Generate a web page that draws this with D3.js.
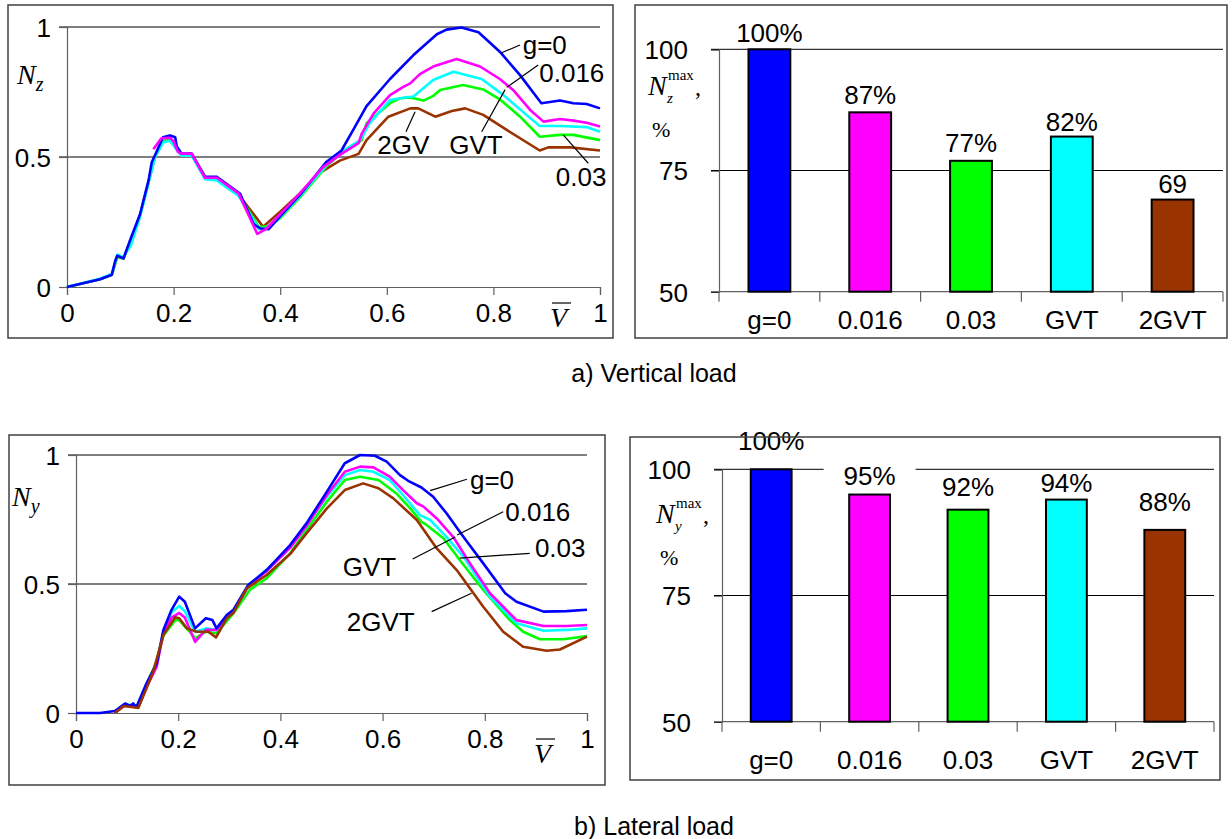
<!DOCTYPE html>
<html>
<head>
<meta charset="utf-8">
<script src="https://cdn.jsdelivr.net/npm/d3@7"></script>
<style>
  body { margin: 0; background: #fff; }
  svg { display: block; }
  text { font-family: "Liberation Sans", Arial, sans-serif; fill: #000; }
  .serif { font-family: "Liberation Serif", "Times New Roman", serif; }
</style>
</head>
<body>
<svg id="chart" width="1232" height="839"></svg>
<script>
// ---- data: relative load N vs V ----
const nzBlue = [[0,0],[0.062,0.03],[0.084,0.047],[0.09,0.097],[0.094,0.12],[0.106,0.11],[0.118,0.178],[0.137,0.28],[0.153,0.41],[0.159,0.48],[0.168,0.52],[0.18,0.576],[0.193,0.583],[0.203,0.576],[0.206,0.54],[0.215,0.513],[0.234,0.513],[0.259,0.424],[0.281,0.424],[0.325,0.358],[0.35,0.242],[0.363,0.225],[0.378,0.222],[0.4,0.273],[0.437,0.354],[0.487,0.482],[0.515,0.525],[0.537,0.604],[0.562,0.696],[0.606,0.8],[0.65,0.892],[0.694,0.972],[0.712,0.99],[0.74,0.998],[0.772,0.98],[0.812,0.905],[0.85,0.815],[0.89,0.707],[0.925,0.717],[0.95,0.707],[0.975,0.704],[1,0.687]];
const nzMagenta = [[0.162,0.53],[0.177,0.572],[0.193,0.574],[0.2,0.56],[0.208,0.52],[0.215,0.513],[0.234,0.513],[0.259,0.42],[0.281,0.42],[0.322,0.36],[0.357,0.204],[0.374,0.224],[0.4,0.28],[0.437,0.36],[0.48,0.46],[0.512,0.508],[0.547,0.553],[0.553,0.59],[0.575,0.667],[0.606,0.738],[0.631,0.77],[0.644,0.783],[0.662,0.819],[0.687,0.848],[0.731,0.877],[0.775,0.848],[0.812,0.8],[0.837,0.758],[0.869,0.681],[0.894,0.636],[0.925,0.646],[0.95,0.64],[0.975,0.632],[1,0.617]];
const nzCyan = [[0,0],[0.062,0.032],[0.084,0.05],[0.095,0.125],[0.105,0.115],[0.12,0.16],[0.137,0.27],[0.153,0.4],[0.165,0.5],[0.18,0.555],[0.193,0.563],[0.205,0.53],[0.215,0.505],[0.234,0.505],[0.259,0.415],[0.281,0.41],[0.322,0.35],[0.36,0.222],[0.38,0.23],[0.4,0.27],[0.437,0.35],[0.487,0.47],[0.515,0.52],[0.55,0.565],[0.568,0.63],[0.606,0.719],[0.637,0.73],[0.65,0.733],[0.687,0.796],[0.725,0.828],[0.778,0.8],[0.819,0.738],[0.862,0.662],[0.887,0.619],[0.925,0.619],[0.975,0.615],[1,0.597]];
const nzGreen = [[0,0],[0.062,0.03],[0.084,0.047],[0.094,0.115],[0.106,0.11],[0.118,0.17],[0.137,0.275],[0.153,0.405],[0.165,0.5],[0.18,0.56],[0.193,0.565],[0.205,0.535],[0.215,0.51],[0.234,0.51],[0.259,0.42],[0.281,0.415],[0.322,0.355],[0.36,0.23],[0.38,0.235],[0.4,0.265],[0.437,0.345],[0.487,0.465],[0.515,0.515],[0.553,0.565],[0.562,0.63],[0.606,0.707],[0.625,0.726],[0.644,0.729],[0.669,0.717],[0.687,0.735],[0.7,0.758],[0.743,0.777],[0.781,0.76],[0.812,0.722],[0.85,0.655],[0.887,0.578],[0.925,0.585],[0.95,0.585],[1,0.565]];
const nzBrown = [[0,0],[0.062,0.03],[0.084,0.047],[0.094,0.115],[0.106,0.11],[0.118,0.17],[0.137,0.275],[0.153,0.405],[0.165,0.5],[0.18,0.56],[0.193,0.565],[0.205,0.535],[0.215,0.51],[0.234,0.51],[0.259,0.42],[0.281,0.415],[0.322,0.355],[0.368,0.232],[0.4,0.29],[0.437,0.36],[0.475,0.44],[0.512,0.486],[0.547,0.512],[0.562,0.565],[0.603,0.655],[0.644,0.687],[0.659,0.687],[0.691,0.655],[0.722,0.677],[0.747,0.687],[0.781,0.662],[0.825,0.604],[0.887,0.525],[0.903,0.537],[0.944,0.537],[1,0.525]];

const nyBlue = [[0,0],[0.047,0],[0.076,0.008],[0.096,0.037],[0.106,0.027],[0.112,0.037],[0.118,0.022],[0.138,0.115],[0.158,0.192],[0.171,0.322],[0.187,0.4],[0.202,0.451],[0.213,0.431],[0.233,0.328],[0.254,0.367],[0.267,0.36],[0.275,0.328],[0.295,0.38],[0.308,0.4],[0.337,0.496],[0.373,0.554],[0.419,0.651],[0.451,0.735],[0.491,0.858],[0.526,0.968],[0.556,1.0],[0.585,0.997],[0.608,0.974],[0.634,0.922],[0.65,0.9],[0.676,0.874],[0.699,0.838],[0.725,0.774],[0.758,0.683],[0.797,0.58],[0.84,0.464],[0.862,0.431],[0.915,0.393],[0.96,0.395],[1,0.4]];
const nyMagenta = [[0.076,0],[0.096,0.03],[0.112,0.03],[0.122,0.022],[0.138,0.1],[0.158,0.18],[0.171,0.31],[0.187,0.37],[0.202,0.388],[0.213,0.37],[0.233,0.276],[0.254,0.322],[0.275,0.322],[0.295,0.375],[0.308,0.395],[0.337,0.49],[0.373,0.55],[0.419,0.64],[0.451,0.725],[0.491,0.845],[0.526,0.935],[0.556,0.955],[0.582,0.952],[0.614,0.916],[0.64,0.864],[0.667,0.813],[0.68,0.8],[0.706,0.754],[0.738,0.683],[0.771,0.58],[0.81,0.464],[0.862,0.36],[0.915,0.337],[0.96,0.337],[1,0.341]];
const nyCyan = [[0.076,0],[0.096,0.032],[0.112,0.032],[0.122,0.022],[0.138,0.105],[0.158,0.185],[0.171,0.315],[0.187,0.39],[0.202,0.415],[0.213,0.395],[0.233,0.315],[0.254,0.328],[0.275,0.322],[0.295,0.378],[0.308,0.398],[0.337,0.493],[0.373,0.555],[0.419,0.645],[0.451,0.728],[0.491,0.838],[0.526,0.922],[0.556,0.942],[0.582,0.935],[0.614,0.903],[0.64,0.845],[0.673,0.767],[0.693,0.748],[0.725,0.683],[0.758,0.606],[0.81,0.451],[0.862,0.348],[0.915,0.319],[0.96,0.322],[1,0.328]];
const nyGreen = [[0.076,0],[0.096,0.03],[0.112,0.03],[0.122,0.022],[0.138,0.11],[0.158,0.2],[0.171,0.3],[0.194,0.36],[0.202,0.36],[0.23,0.298],[0.233,0.289],[0.254,0.315],[0.275,0.309],[0.308,0.386],[0.34,0.477],[0.373,0.522],[0.419,0.619],[0.458,0.729],[0.491,0.819],[0.526,0.903],[0.556,0.916],[0.592,0.903],[0.627,0.851],[0.654,0.793],[0.676,0.741],[0.686,0.729],[0.719,0.677],[0.751,0.593],[0.797,0.477],[0.849,0.36],[0.875,0.315],[0.908,0.286],[0.954,0.286],[1,0.298]];
const nyBrown = [[0.076,0],[0.093,0.027],[0.112,0.022],[0.122,0.02],[0.138,0.096],[0.151,0.16],[0.171,0.302],[0.194,0.371],[0.202,0.367],[0.217,0.328],[0.236,0.315],[0.259,0.315],[0.274,0.293],[0.295,0.367],[0.308,0.388],[0.334,0.483],[0.373,0.535],[0.419,0.616],[0.451,0.696],[0.491,0.793],[0.526,0.864],[0.562,0.89],[0.592,0.871],[0.621,0.832],[0.667,0.748],[0.706,0.638],[0.745,0.554],[0.797,0.412],[0.836,0.315],[0.875,0.257],[0.921,0.241],[0.947,0.246],[1,0.296]];

const xTicks = [0, 0.2, 0.4, 0.6, 0.8, 1];
const xTickLabels = ['0', '0.2', '0.4', '0.6', '0.8', '1'];
const yTicks = [0, 0.5, 1];
const yTickLabels = ['0', '0.5', '1'];

// ---- data: max load in % ----
const barCats = ['g=0', '0.016', '0.03', 'GVT', '2GVT'];
const nzMaxPct = [100, 87, 77, 82, 69];
const nzMaxLabels = ['100%', '87%', '77%', '82%', '69'];
const nyMaxPct = [100, 95, 92, 94, 88];
const nyMaxLabels = ['100%', '95%', '92%', '94%', '88%'];
const barTicks = [50, 75, 100];

// annotation texts and leader ends (in data units)
const nzNotes = [
  { t: 'g=0',   at: [0.855, 0.931], from: [0.8155, 0.901], to: [0.85, 0.931] },
  { t: '0.016', at: [0.886, 0.825], from: [0.825, 0.768], to: [0.884, 0.854] },
  { t: 'GVT',   at: [0.717, 0.546], from: [0.778, 0.597], to: [0.822, 0.759] },
  { t: '2GV',   at: [0.582, 0.546], from: [0.636, 0.597], to: [0.653, 0.674] },
  { t: '0.03',  at: [0.917, 0.424], from: [0.931, 0.585], to: [0.978, 0.476] }
];
const nyNotes = [
  { t: 'g=0',   at: [0.771, 0.903], from: [0.693, 0.862], to: [0.765, 0.906] },
  { t: '0.016', at: [0.84, 0.78],   from: [0.746, 0.69],  to: [0.836, 0.78] },
  { t: '0.03',  at: [0.898, 0.64],  from: [0.751, 0.6],   to: [0.888, 0.619] },
  { t: 'GVT',   at: [0.522, 0.567], from: [0.659, 0.597], to: [0.742, 0.682] },
  { t: '2GVT',  at: [0.53, 0.354],  from: [0.696, 0.393], to: [0.774, 0.464] }
];

const cBlue = '#0000ff', cMag = '#ff00ff', cCyan = '#00ffff', cGreen = '#00ff00', cBrown = '#993300';
const barColors = [cBlue, cMag, cGreen, cCyan, cBrown];

const svg = d3.select('#chart');
const FS = '26px';

function frame(x0, y0, x1, y1) {
  svg.append('rect')
    .attr('x', x0).attr('y', y0)
    .attr('width', x1 - x0).attr('height', y1 - y0)
    .attr('fill', 'none')
    .attr('stroke', '#404040')
    .attr('stroke-width', 1.5);
}

function lineChart(cfg) {
  const g = svg.append('g');
  const x = d3.scaleLinear().domain([0, 1]).range([cfg.left, cfg.right]);
  const y = d3.scaleLinear().domain([0, 1]).range([cfg.bottom, cfg.top]);

  // gridlines
  g.selectAll('.grid').data(yTicks.filter(d => d > 0)).enter()
    .append('line')
    .attr('x1', cfg.left - 8).attr('x2', cfg.right)
    .attr('y1', d => y(d)).attr('y2', d => y(d))
    .attr('stroke', '#000').attr('stroke-width', 1);

  const yAxis = g.append('g')
    .attr('transform', `translate(${cfg.left},0)`)
    .call(d3.axisLeft(y).tickValues(yTicks).tickFormat((d, i) => yTickLabels[i]).tickSize(8).tickPadding(8));
  const xAxis = g.append('g')
    .attr('transform', `translate(0,${cfg.bottom})`)
    .call(d3.axisBottom(x).tickValues(xTicks).tickFormat((d, i) => xTickLabels[i]).tickSize(8).tickPadding(9));
  [yAxis, xAxis].forEach(a => {
    a.select('.domain').attr('stroke', '#606060').attr('stroke-width', 1.2);
    a.selectAll('.tick line').attr('stroke', '#606060').attr('stroke-width', 1.2);
    a.selectAll('.tick text').style('font-size', FS).attr('fill', '#000');
  });
  yAxis.selectAll('.tick text').attr('dy', '0.36em');

  const line = d3.line().x(d => x(d[0])).y(d => y(d[1]));
  cfg.series.forEach(s => {
    g.append('path')
      .datum(s.data)
      .attr('d', line)
      .attr('fill', 'none')
      .attr('stroke', s.color)
      .attr('stroke-width', 2.6)
      .attr('stroke-linejoin', 'round');
  });

  // annotations
  cfg.notes.forEach(n => {
    g.append('line')
      .attr('x1', x(n.from[0])).attr('y1', y(n.from[1]))
      .attr('x2', x(n.to[0])).attr('y2', y(n.to[1]))
      .attr('stroke', '#000').attr('stroke-width', 1.2);
    g.append('text')
      .attr('x', x(n.at[0])).attr('y', y(n.at[1]))
      .attr('dy', '0.36em')
      .style('font-size', FS)
      .text(n.t);
  });

  // axis titles
  const yt = g.append('text').attr('class', 'serif')
    .attr('x', cfg.yTitle[0]).attr('y', cfg.yTitle[1])
    .style('font-size', '28px').style('font-style', 'italic');
  yt.append('tspan').text('N');
  yt.append('tspan').attr('dy', 7).style('font-size', '20px').text(cfg.sub);

  const vx = cfg.vTitle[0], vy = cfg.vTitle[1];
  g.append('text').attr('class', 'serif')
    .attr('x', vx).attr('y', vy)
    .style('font-size', '28px').style('font-style', 'italic')
    .text('V');
  g.append('line')
    .attr('x1', vx + 2).attr('x2', vx + 21)
    .attr('y1', vy - 24).attr('y2', vy - 24)
    .attr('stroke', '#000').attr('stroke-width', 1.2);
}

function barChart(cfg) {
  const g = svg.append('g');
  const x = d3.scaleBand().domain(barCats).range([cfg.left, cfg.right])
    .paddingInner(0.585).paddingOuter(0.2925);
  const y = d3.scaleLinear().domain([50, 100]).range([cfg.bottom, cfg.top]);
  const step = x.step();

  g.selectAll('.grid').data(barTicks.filter(d => d > 50)).enter()
    .append('line')
    .attr('x1', cfg.left - 8).attr('x2', cfg.right)
    .attr('y1', d => y(d)).attr('y2', d => y(d))
    .attr('stroke', '#000').attr('stroke-width', 1);

  const yAxis = g.append('g')
    .attr('transform', `translate(${cfg.left},0)`)
    .call(d3.axisLeft(y).tickValues(barTicks).tickFormat(d3.format('d')).tickSize(8).tickPadding(23));
  yAxis.select('.domain').attr('stroke', '#606060').attr('stroke-width', 1.2);
  yAxis.selectAll('.tick line').attr('stroke', '#000');
  yAxis.selectAll('.tick text').style('font-size', FS).attr('dy', '0.36em');

  // category axis: ticks on band boundaries
  g.append('line')
    .attr('x1', cfg.left).attr('x2', cfg.right)
    .attr('y1', cfg.bottom).attr('y2', cfg.bottom)
    .attr('stroke', '#606060').attr('stroke-width', 1.2);
  g.selectAll('.ctick').data(d3.range(barCats.length + 1)).enter()
    .append('line')
    .attr('x1', i => cfg.left + i * step).attr('x2', i => cfg.left + i * step)
    .attr('y1', cfg.bottom).attr('y2', cfg.bottom + 10)
    .attr('stroke', '#606060').attr('stroke-width', 1.2);
  g.selectAll('.clab').data(barCats).enter()
    .append('text')
    .attr('x', d => x(d) + x.bandwidth() / 2)
    .attr('y', cfg.catY)
    .attr('text-anchor', 'middle')
    .style('font-size', FS)
    .text(d => d);

  g.selectAll('.bar').data(cfg.values).enter()
    .append('rect')
    .attr('x', (d, i) => x(barCats[i]))
    .attr('y', d => y(d))
    .attr('width', x.bandwidth())
    .attr('height', d => cfg.bottom - y(d))
    .attr('fill', (d, i) => barColors[i])
    .attr('stroke', '#000')
    .attr('stroke-width', 2);

  // value labels with white box
  cfg.values.forEach((v, i) => {
    const cx = x(barCats[i]) + x.bandwidth() / 2;
    const by = y(v) - cfg.lift[i];
    const t = g.append('text')
      .attr('x', cx).attr('y', by)
      .attr('text-anchor', 'middle')
      .style('font-size', FS)
      .text(cfg.labels[i]);
    const bb = t.node().getBBox();
    g.insert('rect', () => t.node())
      .attr('x', bb.x - 20).attr('y', bb.y + 3)
      .attr('width', bb.width + 40).attr('height', bb.height - 6)
      .attr('fill', '#fff');
  });

  // y title N^max_sub ,  %
  const [tx, ty] = cfg.yTitle;
  g.append('text').attr('class', 'serif')
    .attr('x', tx).attr('y', ty)
    .style('font-size', '28px').style('font-style', 'italic')
    .text('N');
  g.append('text').attr('class', 'serif')
    .attr('x', tx + 20).attr('y', ty - 15)
    .style('font-size', '15px')
    .text('max');
  g.append('text').attr('class', 'serif')
    .attr('x', tx + 19).attr('y', ty + 8)
    .style('font-size', '15px').style('font-style', 'italic')
    .text(cfg.sub);
  g.append('text').attr('class', 'serif')
    .attr('x', tx + 47).attr('y', ty)
    .style('font-size', '24px')
    .text(',');
  g.append('text').attr('class', 'serif')
    .attr('x', tx + 4).attr('y', ty + 42)
    .style('font-size', '22px')
    .text('%');
}

// ---- a) vertical load ----
lineChart({
  left: 67, right: 600, top: 27, bottom: 287,
  series: [
    { data: nzBrown, color: cBrown },
    { data: nzGreen, color: cGreen },
    { data: nzCyan, color: cCyan },
    { data: nzBlue, color: cBlue },
    { data: nzMagenta, color: cMag }
  ],
  notes: nzNotes, sub: 'z', yTitle: [17, 84], vTitle: [550, 327]
});
barChart({
  left: 719, right: 1223, top: 49.3, bottom: 291.7, catY: 329,
  values: nzMaxPct, labels: nzMaxLabels, lift: [7, 8, 9, 6, 7],
  sub: 'z', yTitle: [648, 95]
});

// ---- b) lateral load ----
lineChart({
  left: 76, right: 587, top: 455, bottom: 713,
  series: [
    { data: nyGreen, color: cGreen },
    { data: nyCyan, color: cCyan },
    { data: nyMagenta, color: cMag },
    { data: nyBlue, color: cBlue },
    { data: nyBrown, color: cBrown }
  ],
  notes: nyNotes, sub: 'y', yTitle: [12, 506], vTitle: [534, 763]
});
barChart({
  left: 722, right: 1214, top: 469.3, bottom: 721.7, catY: 769,
  values: nyMaxPct, labels: nyMaxLabels, lift: [19, 10, 14, 8, 19],
  sub: 'y', yTitle: [656, 523]
});

// ---- frames (drawn last, on top) ----
frame(8, 5, 613, 338);
frame(635, 5, 1227, 338);
frame(9, 435, 605, 785);
frame(630, 437, 1220, 780);

// captions
svg.append('text').attr('x', 654).attr('y', 382).attr('text-anchor', 'middle')
  .style('font-size', '25px').text('a) Vertical load');
svg.append('text').attr('x', 654).attr('y', 835).attr('text-anchor', 'middle')
  .style('font-size', '25px').text('b) Lateral load');
</script>
</body>
</html>
